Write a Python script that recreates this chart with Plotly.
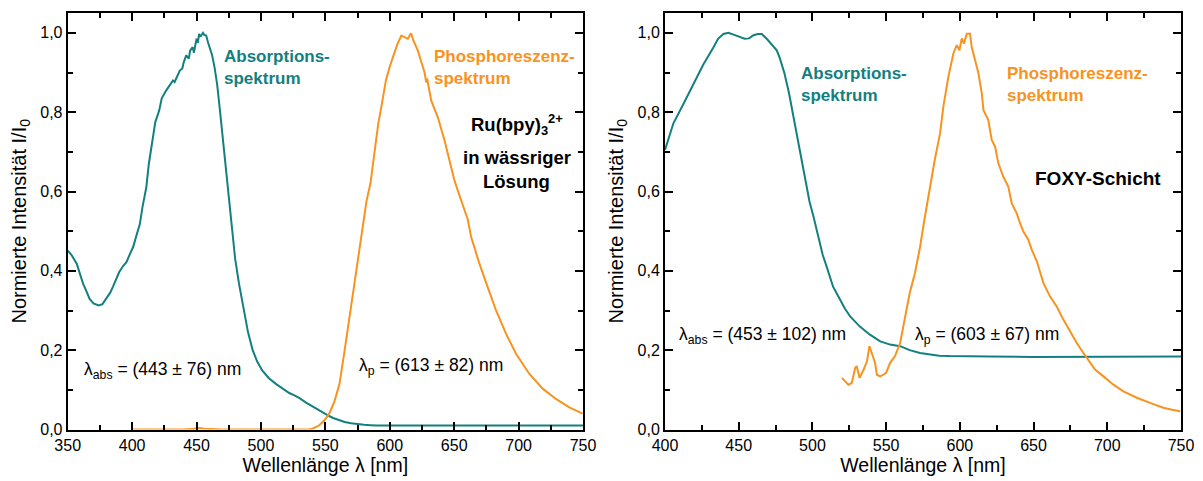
import plotly.graph_objects as go

# ---------------- data ----------------
# Left panel: Ru(bpy)3 2+ in aqueous solution
abs1_x = [350, 353, 357, 360, 362, 365, 367, 370, 374, 377, 380, 383, 385, 388, 390, 393, 395.6, 398, 400.8, 403, 406, 408, 411, 413, 416, 418, 421, 423, 426.5, 428, 430, 431.7, 433, 435, 437, 439, 440, 442, 444, 445, 447, 448, 450, 451, 452, 453, 455, 456, 457.5, 459, 460, 462, 464, 466, 468, 470, 473, 475, 478, 480, 483, 485, 488, 490, 493.6, 497, 501, 506, 511.6, 517, 522, 526, 530, 535, 540, 545, 550, 553, 556, 560, 565, 570, 576, 580, 585, 590, 600, 620, 650, 700, 750]
abs1_y = [0.451, 0.440, 0.418, 0.39, 0.367, 0.345, 0.329, 0.318, 0.313, 0.316, 0.329, 0.345, 0.359, 0.382, 0.397, 0.412, 0.422, 0.44, 0.46, 0.485, 0.518, 0.56, 0.61, 0.67, 0.73, 0.775, 0.804, 0.835, 0.855, 0.862, 0.870, 0.88, 0.876, 0.893, 0.905, 0.910, 0.925, 0.943, 0.935, 0.955, 0.964, 0.950, 0.985, 0.975, 0.997, 0.99, 1.0, 0.995, 0.993, 0.975, 0.964, 0.945, 0.913, 0.87, 0.81, 0.745, 0.66, 0.59, 0.49, 0.43, 0.367, 0.33, 0.283, 0.245, 0.2, 0.172, 0.149, 0.13, 0.115, 0.102, 0.092, 0.086, 0.079, 0.068, 0.058, 0.049, 0.040, 0.034, 0.029, 0.024, 0.019, 0.016, 0.013, 0.012, 0.011, 0.010, 0.010, 0.010, 0.010, 0.010, 0.010]

phos1_x = [400, 420, 440, 448, 452, 456, 470, 500, 520, 530, 537, 540, 545, 549, 553, 557, 561, 565, 569, 572, 575, 578, 582, 585, 588, 591, 593.4, 597, 600, 602.4, 606, 609, 611.5, 614, 616.6, 618.4, 621.8, 625.7, 627, 628.3, 629, 632.2, 637.3, 642.5, 647.7, 650.2, 654.1, 658, 660.5, 663.2, 669.6, 676, 682.5, 690.3, 698, 708.4, 718.7, 729, 739.4, 749.7]
phos1_y = [0.0, 0.0, 0.0, 0.002, 0.004, 0.002, 0.0, 0.0, 0.0, 0.0, 0.0, 0.002, 0.01, 0.022, 0.04, 0.07, 0.115, 0.2, 0.29, 0.36, 0.42, 0.49, 0.577, 0.62, 0.70, 0.77, 0.812, 0.88, 0.915, 0.938, 0.972, 0.993, 0.989, 0.985, 0.999, 0.98, 0.955, 0.913, 0.90, 0.875, 0.885, 0.829, 0.787, 0.729, 0.661, 0.628, 0.59, 0.552, 0.53, 0.485, 0.418, 0.359, 0.30, 0.241, 0.191, 0.14, 0.103, 0.077, 0.056, 0.04]

# Right panel: FOXY layer
abs2_x = [400, 405.7, 412.4, 419, 426, 432.8, 436, 439.6, 443, 447, 450, 454, 457, 460, 463, 465.6, 469, 472, 475.8, 478, 481, 484, 487, 489, 491.6, 494, 496, 498, 500.7, 503, 505, 507, 509.7, 512, 514, 518.8, 522, 525.6, 532, 539, 546, 552.7, 559.5, 566, 573, 580, 586, 593, 600, 620, 650, 680, 700, 720, 750]
abs2_y = [0.705, 0.772, 0.82, 0.87, 0.92, 0.963, 0.985, 0.997, 1.0, 0.995, 0.99, 0.985, 0.986, 0.994, 0.997, 0.997, 0.985, 0.972, 0.956, 0.935, 0.898, 0.85, 0.79, 0.745, 0.696, 0.65, 0.612, 0.575, 0.537, 0.50, 0.47, 0.44, 0.41, 0.385, 0.36, 0.327, 0.305, 0.285, 0.26, 0.239, 0.222, 0.214, 0.21, 0.20, 0.193, 0.189, 0.186, 0.185, 0.185, 0.184, 0.183, 0.183, 0.183, 0.184, 0.184]

phos2_x = [520, 522, 524.4, 526.7, 528, 529, 530, 532, 534.6, 537, 538.7, 540.3, 542.5, 543.7, 546, 548, 550, 552.7, 556, 559.5, 562.7, 566, 569.5, 573, 576, 580, 583, 586.6, 588.8, 592.2, 595.6, 597.9, 599.7, 601.3, 602.8, 604.7, 606.9, 608, 610.3, 612.6, 614.9, 616, 619.3, 621.6, 623.9, 626.1, 629.5, 632.9, 635.2, 638.6, 640.8, 643.1, 646.5, 648.8, 652.2, 656.7, 661.2, 665.7, 670.2, 674.8, 679.3, 683.8, 687.2, 691.7, 697.4, 704.2, 710.9, 720, 729, 738, 744, 749.4]
phos2_y = [0.13, 0.122, 0.113, 0.117, 0.135, 0.155, 0.16, 0.13, 0.15, 0.172, 0.21, 0.193, 0.168, 0.138, 0.134, 0.138, 0.143, 0.168, 0.185, 0.218, 0.277, 0.344, 0.394, 0.46, 0.53, 0.62, 0.68, 0.747, 0.814, 0.889, 0.948, 0.969, 0.956, 0.986, 0.973, 0.998, 0.998, 0.965, 0.931, 0.898, 0.847, 0.805, 0.78, 0.73, 0.713, 0.671, 0.637, 0.612, 0.57, 0.545, 0.52, 0.499, 0.478, 0.453, 0.424, 0.369, 0.335, 0.31, 0.277, 0.247, 0.218, 0.193, 0.176, 0.151, 0.134, 0.113, 0.096, 0.08, 0.067, 0.055, 0.05, 0.046]

TEAL = "#13807f"
ORANGE = "#f7931e"
FONT = "Liberation Sans, Arial, sans-serif"

fig = go.Figure()
fig.add_trace(go.Scatter(x=abs1_x, y=abs1_y, mode="lines", line=dict(color=TEAL, width=2), xaxis="x", yaxis="y", showlegend=False))
fig.add_trace(go.Scatter(x=phos1_x, y=phos1_y, mode="lines", line=dict(color=ORANGE, width=2), xaxis="x", yaxis="y", showlegend=False))
fig.add_trace(go.Scatter(x=abs2_x, y=abs2_y, mode="lines", line=dict(color=TEAL, width=2), xaxis="x2", yaxis="y2", showlegend=False))
fig.add_trace(go.Scatter(x=phos2_x, y=phos2_y, mode="lines", line=dict(color=ORANGE, width=2), xaxis="x2", yaxis="y2", showlegend=False))

# page body has an 8 px margin: the figure is drawn at (8, 8)
OFF = 8
W, H = 1195, 473
ydom = [1 - (429.5 - OFF) / H, 1 - (13 - OFF) / H]

def xax(domain, rng, anchor):
    return dict(domain=domain, range=rng, anchor=anchor, dtick=50, tick0=350,
                automargin=False,
                ticks="inside", ticklen=8, tickwidth=1.5, tickcolor="black",
                minor=dict(ticks="inside", ticklen=5, tickwidth=1.5, dtick=25, tickcolor="black"),
                showline=True, linewidth=2, linecolor="black", mirror="allticks",
                showgrid=False, zeroline=False,
                tickfont=dict(family=FONT, size=16, color="black"),
                title=dict(text="Wellenlänge λ [nm]", font=dict(family=FONT, size=19.5, color="black"), standoff=5))

def yax(domain, anchor):
    return dict(domain=domain, range=[0, 1.05], anchor=anchor, dtick=0.2, tickformat=".1f",
                automargin=False,
                ticks="inside", ticklen=8, tickwidth=1.5, tickcolor="black",
                minor=dict(ticks="inside", ticklen=5, tickwidth=1.5, dtick=0.1, tickcolor="black"),
                showline=True, linewidth=2, linecolor="black", mirror="allticks",
                showgrid=False, zeroline=False,
                tickfont=dict(family=FONT, size=16, color="black"),
                title=dict(text="Normierte Intensität I/I<sub>0</sub>", font=dict(family=FONT, size=20, color="black"), standoff=9))

fig.update_layout(
    width=W, height=H,
    margin=dict(l=0, r=0, t=0, b=0),
    paper_bgcolor="white", plot_bgcolor="white",
    separators=",.",
    xaxis=xax([(67.7 - OFF) / W, (583 - OFF) / W], [350, 750], "y"),
    yaxis=yax(ydom, "x"),
    xaxis2=xax([(665 - OFF) / W, (1181 - OFF) / W], [400, 750], "y2"),
    yaxis2=yax(ydom, "x2"),
)

def ann(text, x, y, xr, yr, color="black", bold=False, size=16, xanchor="left"):
    if bold:
        text = "<b>" + text + "</b>"
    fig.add_annotation(text=text, x=x, y=y, xref=xr, yref=yr, showarrow=False,
                       xanchor=xanchor, yanchor="middle", align="left" if xanchor == "left" else "center",
                       font=dict(family=FONT, size=size, color=color))

# left panel
ann("Absorptions-<br>spektrum", 470, 0.912, "x", "y", TEAL, True, 17)
ann("Phosphoreszenz-<br>spektrum", 633, 0.912, "x", "y", ORANGE, True, 17)
ann("Ru(bpy)<sub>3</sub><sup>2+</sup>", 698.4, 0.768, "x", "y", "black", True, 18.5, "center")
ann("in wässriger", 698.4, 0.686, "x", "y", "black", True, 18.5, "center")
ann("Lösung", 698.4, 0.625, "x", "y", "black", True, 18.5, "center")
ann("λ<sub>abs</sub> = (443 ± 76) nm", 361, 0.15, "x", "y", "black", False, 17.5)
ann("λ<sub>p</sub> = (613 ± 82) nm", 574.4, 0.16, "x", "y", "black", False, 17.5)

# right panel
ann("Absorptions-<br>spektrum", 491, 0.871, "x2", "y2", TEAL, True, 17)
ann("Phosphoreszenz-<br>spektrum", 630.7, 0.871, "x2", "y2", ORANGE, True, 17)
ann("FOXY-Schicht", 649.7, 0.632, "x2", "y2", "black", True, 19)
ann("λ<sub>abs</sub> = (453 ± 102) nm", 408, 0.238, "x2", "y2", "black", False, 17.5)
ann("λ<sub>p</sub> = (603 ± 67) nm", 568, 0.238, "x2", "y2", "black", False, 17.5)

fig.write_html("out.html")
